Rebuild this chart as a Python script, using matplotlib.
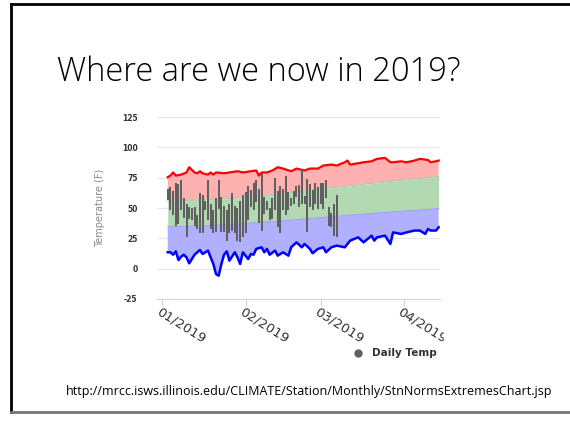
import numpy as np
import matplotlib
matplotlib.use("Agg")
import matplotlib.pyplot as plt
from matplotlib.lines import Line2D
from matplotlib.transforms import Bbox, TransformedBbox

# daily observed temps (high / low), days since Jan 1 2019
daily_days = list(range(2, 66))
daily_hi = [66, 67, 64, 71, 70, 73, 58, 53, 51, 50, 51, 44, 62, 61, 56, 73, 53, 48, 58, 73,
            59, 52, 48, 53, 62, 52, 50, 56, 61, 63, 68, 65, 71, 73, 66, 79, 59, 56, 50, 58,
            75, 64, 68, 66, 76, 63, 58, 64, 68, 69, 82, 60, 74, 70, 65, 71, 67, 71, 71, 73,
            51, 46, 53, 61]
daily_lo = [57, 48, 44, 35, 37, 48, 42, 26, 41, 40, 35, 33, 29, 29, 48, 40, 33, 29, 30, 49,
            30, 30, 23, 29, 31, 29, 23, 22, 26, 29, 40, 51, 48, 55, 38, 31, 45, 48, 40, 41,
            48, 34, 29, 48, 44, 48, 52, 53, 59, 51, 53, 53, 30, 51, 48, 53, 49, 53, 49, 58,
            35, 34, 27, 26]

# record highs
rec_hi_days = [2, 3, 4, 5, 7, 9, 10, 12, 13, 14, 15, 17, 18, 19, 20, 23, 25, 28, 30, 33,
               35, 36, 37, 39, 41, 43, 45, 48, 50, 53, 55, 58, 60, 63, 65, 68, 69, 70, 73, 75,
               78, 80, 83, 85, 86, 89, 91, 94, 96, 99, 100, 102, 103]
rec_hi = [75.4, 76.7, 79.3, 76.7, 77.5, 79.3, 83.6, 79.3, 78.6, 80.3, 78.6, 77.5, 79.3, 77.5,
          79.3, 78.6, 79.3, 80.3, 79.3, 80.3, 80.9, 76.7, 79.3, 79.3, 80.9, 83.6, 82.5, 80.3,
          82.5, 80.9, 82.5, 82.5, 85.0, 85.8, 85.0, 87.7, 89.1, 85.8, 86.9, 87.7, 88.5, 90.5,
          91.3, 87.7, 87.7, 88.5, 87.7, 89.1, 90.5, 89.6, 87.7, 88.5, 89.1]

# record lows
rec_lo_days = [2, 3, 4, 5, 6, 7, 8, 9, 10, 12, 13, 14, 15, 17, 18, 19, 20, 21, 22, 23,
               24, 25, 27, 28, 29, 30, 32, 33, 34, 35, 37, 38, 39, 40, 42, 43, 45, 47, 48, 50,
               52, 53, 55, 56, 58, 60, 61, 63, 65, 68, 70, 73, 75, 78, 79, 80, 83, 85, 86, 89,
               91, 94, 96, 98, 99, 100, 102, 103]
rec_lo = [13.5, 13.5, 11.5, 14.3, 7.1, 9.9, 11.5, 9.3, 4.4, 11.5, 13.5, 15.4, 12.1, 14.9,
          9.3, 3.85, -4.4, -5.8, 3.85, 11.5, 14.3, 6.6, 13.5, 9.3, 3.85, 13.5, 7.9, 12.1, 11.5,
          16.3, 17.6, 13.5, 16.3, 11.5, 14.9, 10.7, 13.5, 10.7, 17.6, 21.7, 17.6, 20.4, 16.3,
          12.7, 16.3, 17.6, 13.5, 17.6, 19.0, 17.6, 23.1, 25.8, 21.7, 27.2, 23.1, 25.8, 27.2,
          20.4, 29.9, 28.6, 29.9, 31.4, 31.4, 28.6, 32.7, 31.4, 31.4, 34.1]

# normals
norm_days = [2, 15, 30, 45, 60, 75, 90, 103]
norm_hi = [56, 56.5, 58.5, 62, 66, 69.5, 73, 76]
norm_lo = [34.6, 35.3, 37.2, 39.5, 42.3, 45, 47.5, 49.5]

month_ticks = [0, 31, 59, 90]
month_labels = ["01/2019", "02/2019", "03/2019", "04/2019"]
y_ticks = [-25, 0, 25, 50, 75, 100, 125]

W, H = 570, 426
fig = plt.figure(figsize=(W / 100, H / 100), dpi=100)
fig.patch.set_facecolor("white")

ax = fig.add_axes([157 / W, 1 - 299 / H, 283 / W, 182 / H])
ax.set_xlim(-2, 103.5)
ax.set_ylim(-25, 125)

# bands
ax.fill(rec_hi_days + norm_days[::-1], rec_hi + norm_hi[::-1], color="#ffb0b0", lw=0, zorder=1)
ax.fill_between(norm_days, norm_lo, norm_hi, color="#b3d9b3", lw=0, zorder=1)
ax.fill(norm_days + rec_lo_days[::-1], norm_lo + rec_lo[::-1], color="#b0b0ff", lw=0, zorder=1)
ax.plot(norm_days, norm_hi, color="#9cc89c", lw=0.6, zorder=2)
ax.plot(norm_days, norm_lo, color="#9a9aff", lw=0.6, zorder=2)
ax.plot(rec_hi_days, rec_hi, color="#ff0000", lw=1.6, zorder=3)
ax.plot(rec_lo_days, rec_lo, color="#0000ff", lw=1.8, zorder=3)

# daily temps
ax.bar(daily_days, np.array(daily_hi) - np.array(daily_lo), bottom=daily_lo,
       width=0.75, color="#606060", zorder=4)

for s in ["top", "right", "left"]:
    ax.spines[s].set_visible(False)
ax.spines["bottom"].set_color("#ccd6eb")
ax.set_yticks(y_ticks)
ax.set_yticklabels([str(v) for v in y_ticks], fontsize=5.5, color="#333333", fontweight="bold")
ax.tick_params(axis="y", length=0, pad=14)
ax.grid(axis="y", color="#e6e6e6", lw=0.8, zorder=0)
ax.set_axisbelow(True)
ax.set_ylabel("Temperature (F)", fontsize=7, color="#888888", labelpad=12)

# month labels, drawn by hand so the last one can be cut at the image edge
ax.set_xticks(month_ticks)
ax.set_xticklabels([])
ax.tick_params(axis="x", length=5, color="#ccd6eb")
clip = TransformedBbox(Bbox([[0, 0], [444 / W, 1]]), fig.transFigure)
for xt, lab in zip(month_ticks, month_labels):
    t = ax.annotate(lab, xy=(xt, 0), xycoords=ax.get_xaxis_transform(),
                    xytext=(-1, -4.5), textcoords="offset points",
                    rotation=-32, ha="left", va="top", rotation_mode="anchor",
                    fontsize=9.5, color="#333333", annotation_clip=False)
    t.set_clip_on(True)
    t.set_clip_box(clip)

# legend
fig.add_artist(Line2D([358 / W], [1 - 353 / H], marker="o", color="#606060",
                      markersize=5, transform=fig.transFigure))
fig.text(372 / W, 1 - 353 / H, "Daily Temp", fontsize=7.5, fontweight="bold",
         color="#333333", va="center", ha="left")

# slide text
fig.text(57 / W, 1 - 72 / H, "Where are we now in 2019?", fontsize=23.5,
         family="Open Sans", fontweight="light", color="#000000", va="center", ha="left")
fig.text(66 / W, 1 - 392 / H,
         "http://mrcc.isws.illinois.edu/CLIMATE/Station/Monthly/StnNormsExtremesChart.jsp",
         fontsize=9, family="Open Sans", color="#000000", va="center", ha="left")

# slide border
fig.add_artist(Line2D([11 / W, 11 / W], [1 - 412 / H, 1 - 4 / H], color="black", lw=2,
                      transform=fig.transFigure))
fig.add_artist(Line2D([11 / W, 1], [1 - 4 / H, 1 - 4 / H], color="black", lw=2,
                      transform=fig.transFigure))
fig.add_artist(Line2D([11 / W, 1], [1 - 412 / H, 1 - 412 / H], color="#777777", lw=2,
                      transform=fig.transFigure))

fig.savefig("out.png", dpi=100)
